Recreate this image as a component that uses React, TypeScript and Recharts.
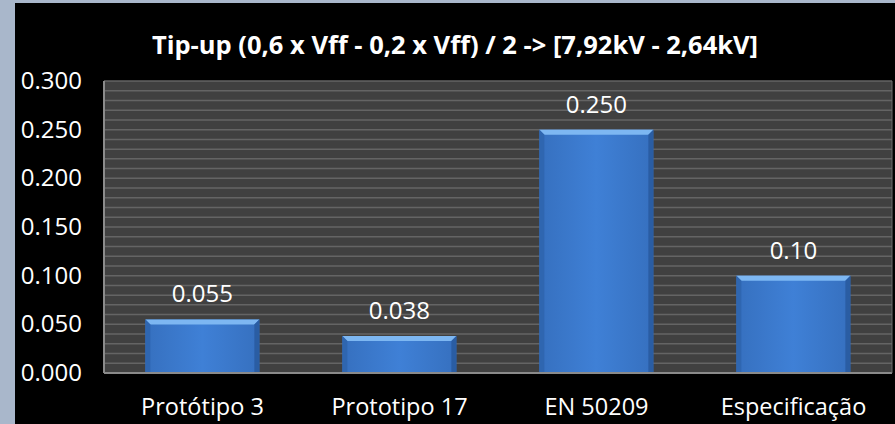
import React from 'react';
import { BarChart, Bar, XAxis, YAxis, CartesianGrid, LabelList } from 'recharts';

// categories and values
const categories = ['Protótipo 3', 'Prototipo 17', 'EN 50209', 'Especificação'];
const values = [0.055, 0.038, 0.25, 0.1];
const valueLabels = ['0.055', '0.038', '0.250', '0.10'];
const yTicks = [0, 0.05, 0.1, 0.15, 0.2, 0.25, 0.3];
const minorTicks = Array.from({ length: 31 }, (_, i) => i / 100);

const data = categories.map((name, i) => ({ name, value: values[i], label: valueLabels[i] }));

const FONT = '"Open Sans", "Noto Sans", sans-serif';

// bevelled bar like the Office chart style
const BevelBar = (props: any) => {
  const { x, y, width, height } = props;
  if (!height || height <= 0) return null;
  const b = 5;
  return (
    <g>
      <rect x={x} y={y} width={width} height={height} fill="url(#barFill)" />
      <polygon points={`${x},${y} ${x + width},${y} ${x + width - b},${y + b} ${x + b},${y + b}`} fill="#7db7f2" />
      <polygon points={`${x},${y} ${x + b},${y + b} ${x + b},${y + height} ${x},${y + height}`} fill="#2f66b0" />
      <polygon points={`${x + width},${y} ${x + width - b},${y + b} ${x + width - b},${y + height} ${x + width},${y + height}`} fill="#2a5da3" />
    </g>
  );
};

const YTick = (props: any) => {
  const { x, y, payload } = props;
  return (
    <text x={x - 14} y={y} dy={8} textAnchor="end" fill="#ffffff" fontSize={24} fontFamily={FONT}>
      {Number(payload.value).toFixed(3)}
    </text>
  );
};

const XTick = (props: any) => {
  const { x, y, payload } = props;
  return (
    <text x={x} y={y} dy={34} textAnchor="middle" fill="#ffffff" fontSize={23.5} fontFamily={FONT}>
      {payload.value}
    </text>
  );
};

export default function App() {
  return (
    <div style={{ position: 'fixed', left: 0, top: 0, width: 895, height: 424, background: '#a9b7cb', overflow: 'hidden' }}>
      <div style={{ position: 'absolute', left: 15, top: 3, width: 880, height: 421, background: '#000000' }}>
        <div
          style={{
            position: 'absolute', left: 0, top: 25, width: 880, textAlign: 'center',
            color: '#ffffff', fontFamily: FONT, fontWeight: 700, fontSize: 25.5, lineHeight: '32px',
          }}
        >
          Tip-up (0,6 x Vff - 0,2 x Vff) / 2 -&gt; [7,92kV - 2,64kV]
        </div>
        <BarChart
          width={880}
          height={421}
          data={data}
          margin={{ top: 78, right: 2, left: 0, bottom: 0 }}
          barCategoryGap="21%"
          style={{ position: 'absolute', left: 0, top: 0 }}
        >
          <defs>
            <linearGradient id="barFill" x1="0" y1="0" x2="1" y2="0">
              <stop offset="0%" stopColor="#3670bf" />
              <stop offset="50%" stopColor="#3f80d6" />
              <stop offset="100%" stopColor="#3670bf" />
            </linearGradient>
          </defs>
          <CartesianGrid
            vertical={false}
            horizontalValues={minorTicks}
            stroke="#646464"
            strokeWidth={1.5}
            fill="#404040"
          />
          <XAxis
            dataKey="name"
            axisLine={{ stroke: '#8a8a8a', strokeWidth: 2 }}
            tickLine={false}
            tick={<XTick />}
            height={51}
            interval={0}
          />
          <YAxis
            domain={[0, 0.3]}
            ticks={yTicks}
            interval={0}
            width={89}
            axisLine={{ stroke: '#8a8a8a', strokeWidth: 2 }}
            tickLine={false}
            tick={<YTick />}
          />
          <YAxis
            yAxisId="border"
            orientation="right"
            domain={[0, 0.3]}
            width={1}
            axisLine={{ stroke: '#6a6a6a', strokeWidth: 1 }}
            tickLine={false}
            tick={false}
          />
          <Bar dataKey="value" shape={<BevelBar />} isAnimationActive={false}>
            <LabelList dataKey="label" position="top" offset={17} fill="#ffffff" fontSize={24} fontFamily={FONT} />
          </Bar>
        </BarChart>
      </div>
    </div>
  );
}
